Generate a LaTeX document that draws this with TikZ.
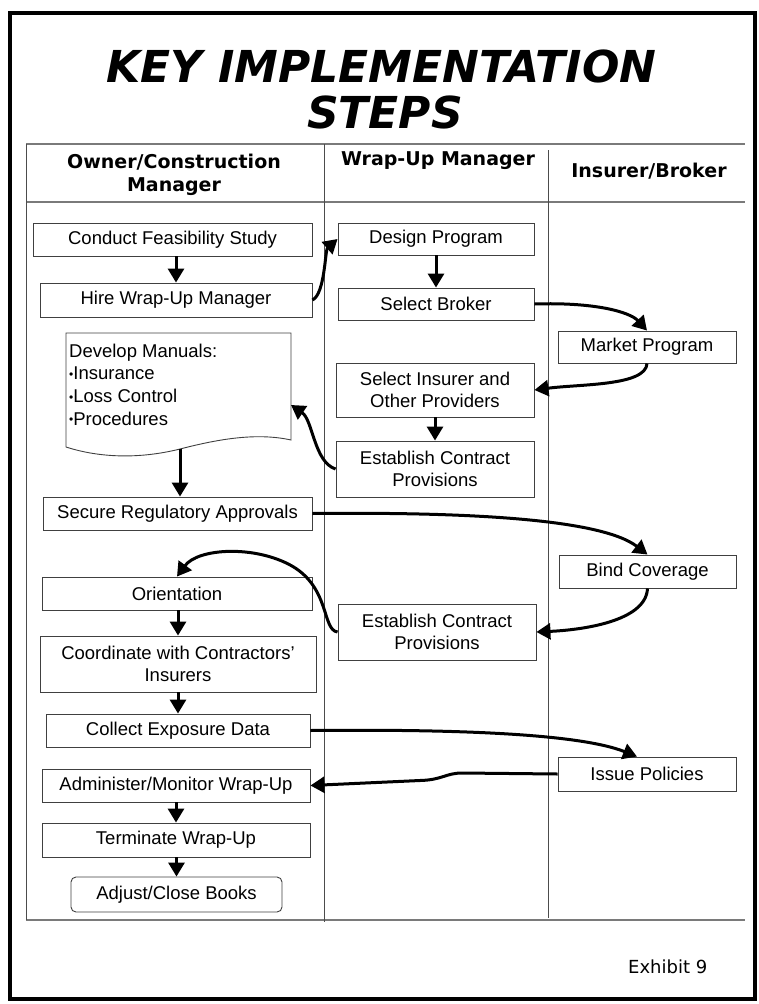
\documentclass[tikz,border=0pt]{standalone}
\usepackage{fontspec}
\setmainfont{Liberation Sans}
\newfontfamily\verdfont{DejaVu Sans}
\usepackage{tikz}
\usetikzlibrary{arrows.meta}

\definecolor{lanegray}{HTML}{7A7A7A}
\definecolor{boxgray}{HTML}{404040}
\newcommand{\smallbul}{\raisebox{1.5pt}{\scalebox{0.65}{•}}}

\begin{document}
\begin{tikzpicture}[x=1pt, y=-1pt,
  stepbox/.style={draw=boxgray, line width=0.9pt, fill=white, inner sep=0pt, align=center, font=\fontsize{18.5}{22}\selectfont},
  flow/.style={line width=3pt, -{Triangle[length=14pt,width=16pt]}},
  lane/.style={draw=lanegray, line width=1.5pt},
  divider/.style={draw=black!70, line width=1pt},
  headtext/.style={font=\verdfont\bfseries\fontsize{19}{22.5}\selectfont, inner sep=0pt, align=center},
  titletext/.style={font=\verdfont\bfseries\itshape\fontsize{44}{46}\selectfont, inner sep=0pt, anchor=base}]
\useasboundingbox (0,0) rectangle (759,1004);
% Outer frame
\draw[line width=4pt] (10,12.5) rectangle (755,999);
% Title
\node[titletext] (title1) at (381.5,82) {KEY IMPLEMENTATION};
\node[titletext] (title2) at (385,128) {STEPS};
% Swim lanes
\draw[lane] (26,144) -- (745,144);
\draw[lane] (26,202) -- (745,202);
\draw[lane] (26,920) -- (745,920);
\draw[divider] (26,144) -- (26,920);
\draw[divider] (324,144) -- (324,922);
\draw[divider] (548,150) -- (548,918);
% Lane headers
\node[headtext] (hOwner) at (174,174.8) {Owner/Construction\\Manager};
\node[headtext, anchor=base] (hWrap) at (438,165) {Wrap-Up Manager};
\node[headtext, anchor=base] (hIns) at (649,177) {Insurer/Broker};
% Owner / construction manager steps
\node[stepbox, minimum width=279, minimum height=33] (conduct) at (172.5,239.5) {Conduct Feasibility Study};
\node[stepbox, minimum width=272, minimum height=34] (hire) at (176,300) {Hire Wrap-Up Manager};
\draw[draw=boxgray, line width=0.9pt, fill=white] (66,333) -- (291,333) -- (291,440)
  .. controls (255,432) and (215,440) .. (180,449)
  .. controls (140,459) and (100,458) .. (66,447) -- cycle;
\node[anchor=north west, inner sep=0pt, align=left, font=\fontsize{18.5}{22.7}\selectfont] (manuals) at (69,343.5)
  {Develop Manuals:\\\smallbul Insurance\\\smallbul Loss Control\\\smallbul Procedures};
\coordinate (manR) at (291,405);
\coordinate (manB) at (180,449);
\node[stepbox, minimum width=269, minimum height=33] (secure) at (177.5,513.5) {Secure Regulatory Approvals};
\node[stepbox, minimum width=270, minimum height=33] (orient) at (177,593.5) {Orientation};
\node[stepbox, minimum width=276, minimum height=56] (coord) at (178,664) {Coordinate with Contractors'\\Insurers};
\node[stepbox, minimum width=264, minimum height=33] (collect) at (178,730.5) {Collect Exposure Data};
\node[stepbox, minimum width=268, minimum height=33] (admin) at (176,785.5) {Administer/Monitor Wrap-Up};
\node[stepbox, minimum width=268, minimum height=34] (term) at (176,840) {Terminate Wrap-Up};
\node[stepbox, rounded corners=5pt, minimum width=211, minimum height=35] (adjust) at (176.5,894.5) {Adjust/Close Books};
% Wrap-up manager steps
\node[stepbox, minimum width=196, minimum height=32] (design) at (436,239) {Design Program};
\node[stepbox, minimum width=196, minimum height=32] (broker) at (436,304) {Select Broker};
\node[stepbox, minimum width=198, minimum height=54] (insurer) at (435,390) {Select Insurer and\\Other Providers};
\node[stepbox, minimum width=198, minimum height=56] (est1) at (435,469) {Establish Contract\\Provisions};
\node[stepbox, minimum width=198, minimum height=56] (est2) at (437,632) {Establish Contract\\Provisions};
% Insurer / broker steps
\node[stepbox, minimum width=178, minimum height=32] (market) at (647,347) {Market Program};
\node[stepbox, minimum width=177, minimum height=33] (bind) at (647.5,571.5) {Bind Coverage};
\node[stepbox, minimum width=178, minimum height=34] (issue) at (647,774) {Issue Policies};
% Arrows
\draw[flow] (hire.north |- conduct.south) -- (hire.north);
\draw[flow] (hire.east) .. controls (325,294) and (325,250) .. (design.west);
\draw[flow] (design.south) -- (broker.north);
\draw[flow] (broker.east) .. controls (595,302) and (630,312) .. (market.north);
\draw[flow] (market.south) .. controls (646,386) and (580,384) .. (insurer.east);
\draw[flow] (insurer.south) -- (est1.north);
\draw[flow] (est1.west) .. controls (314,462) and (313,420) .. (manR);
\draw[flow] (manB) -- (manB |- secure.north);
\draw[flow] (secure.east) .. controls (460,512) and (600,518) .. (bind.north);
\draw[flow] (bind.south) .. controls (646,622) and (580,630) .. (est2.east);
\draw[flow] (est2.west) .. controls (322,630) and (330,588) .. (292,566)
  .. controls (255,545) and (198,548) .. (orient.north);
\draw[flow] (coord.north |- orient.south) -- (coord.north);
\draw[flow] (collect.north |- coord.south) -- (collect.north);
\draw[flow] (collect.east) .. controls (460,729) and (580,734) .. ([xshift=-10pt]issue.north);
\draw[flow] (issue.west) -- (462,773) .. controls (446,773) and (442,780) .. (420,780.5) -- (admin.east);
\draw[flow] (term.north |- admin.south) -- (term.north);
\draw[flow] (adjust.north |- term.south) -- (adjust.north);
% Footer
\node[font=\verdfont\fontsize{18}{22}\selectfont, anchor=base west, inner sep=0pt] (exhibit) at (628,973) {Exhibit 9};
\end{tikzpicture}
\end{document}
